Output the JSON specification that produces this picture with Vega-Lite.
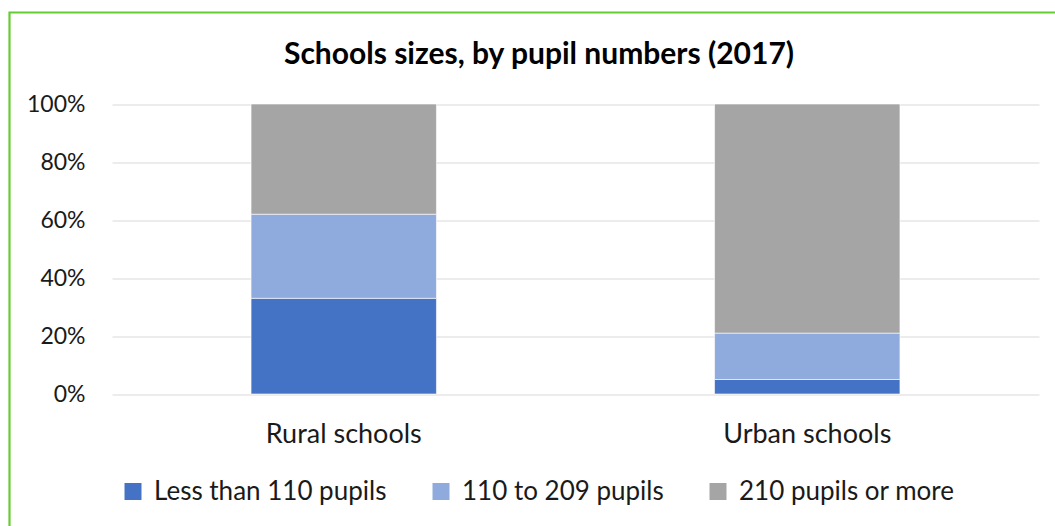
{
  "$schema": "https://vega.github.io/schema/vega-lite/v6.json",
  "autosize": {"type": "none"},
  "padding": {"left": 9.5, "top": 12.5, "right": -13.5, "bottom": -6.5},
  "width": 1059,
  "height": 520,
  "background": "#ffffff",
  "view": {"stroke": "#66CC33", "strokeWidth": 2.2},
  "title": {
    "text": "Schools sizes, by pupil numbers (2017)",
    "font": "Lato",
    "fontSize": 30,
    "fontWeight": "bold",
    "color": "#000000",
    "anchor": "middle",
    "frame": "group",
    "baseline": "alphabetic",
    "offset": -81
  },
  "data": {
    "values": [
      {"location": "Rural schools", "size": "Less than 110 pupils", "k": 1, "share": 0.33},
      {"location": "Rural schools", "size": "110 to 209 pupils", "k": 2, "share": 0.29},
      {"location": "Rural schools", "size": "210 pupils or more", "k": 3, "share": 0.38},
      {"location": "Urban schools", "size": "Less than 110 pupils", "k": 1, "share": 0.05},
      {"location": "Urban schools", "size": "110 to 209 pupils", "k": 2, "share": 0.16},
      {"location": "Urban schools", "size": "210 pupils or more", "k": 3, "share": 0.79}
    ]
  },
  "mark": {"type": "bar", "stroke": "#ffffff", "strokeWidth": 0.6},
  "encoding": {
    "x": {
      "field": "location",
      "type": "nominal",
      "scale": {
        "type": "band",
        "domain": ["Rural schools", "Urban schools"],
        "range": [102.5, 1029.5],
        "paddingInner": 0.6,
        "paddingOuter": 0.3
      },
      "axis": {
        "title": null,
        "orient": "bottom",
        "offset": -138.5,
        "domain": false,
        "ticks": false,
        "tickSize": 0,
        "labelFont": "Lato",
        "labelFontSize": 27,
        "labelColor": "#1a1a1a",
        "labelBaseline": "alphabetic",
        "labelPadding": 48,
        "labelAngle": 0
      }
    },
    "y": {
      "field": "share",
      "type": "quantitative",
      "stack": "zero",
      "scale": {"domain": [0, 1], "range": [381.5, 91.5], "nice": false},
      "axis": {
        "title": null,
        "orient": "left",
        "offset": -75.5,
        "values": [0, 0.2, 0.4, 0.6, 0.8, 1],
        "format": ".0%",
        "domain": false,
        "ticks": false,
        "tickSize": 0,
        "labelPadding": 0,
        "labelFont": "Lato",
        "labelFontSize": 23,
        "labelColor": "#1a1a1a",
        "grid": true,
        "gridColor": "#D9D9D9",
        "gridWidth": 1.2
      }
    },
    "color": {
      "field": "size",
      "type": "nominal",
      "scale": {
        "domain": ["Less than 110 pupils", "110 to 209 pupils", "210 pupils or more"],
        "range": ["#4472C4", "#8FAADC", "#A5A5A5"]
      },
      "legend": {
        "title": null,
        "orient": "none",
        "legendX": 110.5,
        "legendY": 466,
        "direction": "horizontal",
        "symbolType": "square",
        "symbolSize": 289,
        "symbolStrokeWidth": 0,
        "symbolOffset": 0,
        "labelOffset": 8,
        "labelLimit": 0,
        "labelFont": "Lato",
        "labelFontSize": 26,
        "labelColor": "#1a1a1a",
        "columnPadding": 41
      }
    },
    "order": {"field": "k", "type": "quantitative"}
  }
}
